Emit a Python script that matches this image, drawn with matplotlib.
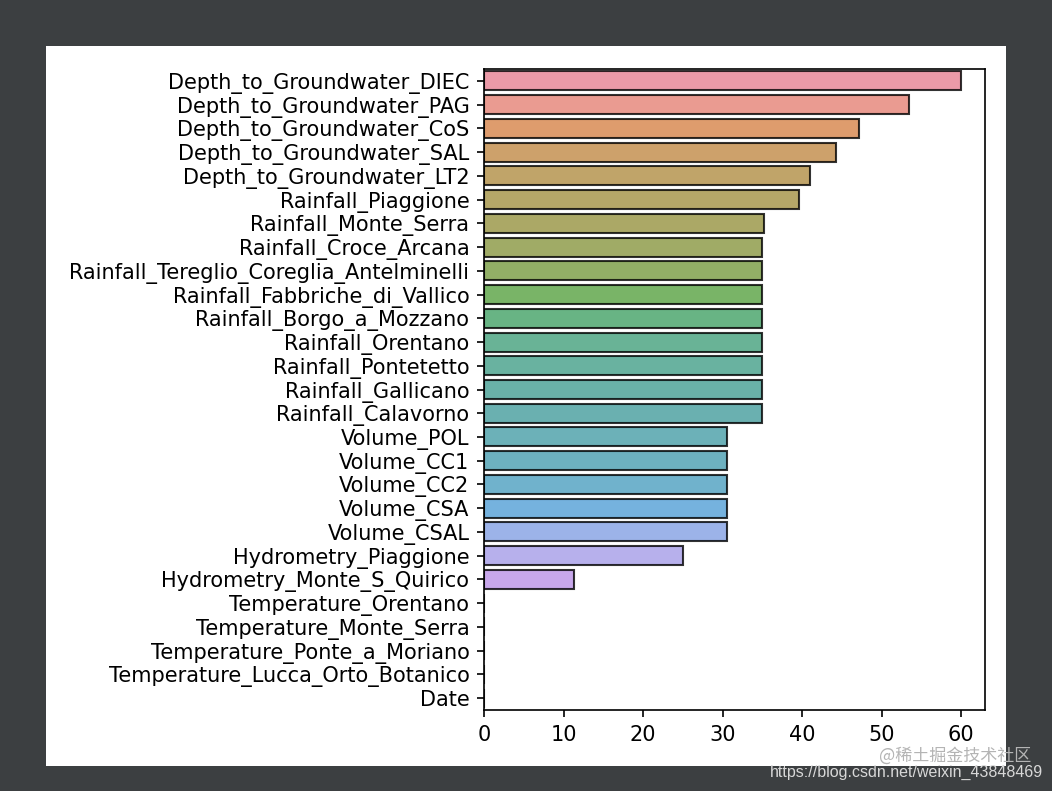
import matplotlib
matplotlib.use("Agg")
import matplotlib.pyplot as plt
import seaborn as sns
from matplotlib.patches import Rectangle

# missing-value percentage per column
columns = ['Depth_to_Groundwater_DIEC', 'Depth_to_Groundwater_PAG', 'Depth_to_Groundwater_CoS',
           'Depth_to_Groundwater_SAL', 'Depth_to_Groundwater_LT2', 'Rainfall_Piaggione',
           'Rainfall_Monte_Serra', 'Rainfall_Croce_Arcana', 'Rainfall_Tereglio_Coreglia_Antelminelli',
           'Rainfall_Fabbriche_di_Vallico', 'Rainfall_Borgo_a_Mozzano', 'Rainfall_Orentano',
           'Rainfall_Pontetetto', 'Rainfall_Gallicano', 'Rainfall_Calavorno',
           'Volume_POL', 'Volume_CC1', 'Volume_CC2', 'Volume_CSA', 'Volume_CSAL',
           'Hydrometry_Piaggione', 'Hydrometry_Monte_S_Quirico', 'Temperature_Orentano',
           'Temperature_Monte_Serra', 'Temperature_Ponte_a_Moriano',
           'Temperature_Lucca_Orto_Botanico', 'Date']
missing = [60.0, 53.4, 47.1, 44.3, 41.0, 39.6, 35.2, 35.0, 35.0, 35.0, 35.0, 35.0, 35.0, 35.0,
           35.0, 30.6, 30.6, 30.6, 30.6, 30.6, 25.0, 11.3, 0, 0, 0, 0, 0]

fig = plt.figure(figsize=(1052 / 150, 791 / 150), dpi=150, facecolor='#3c3f41')
# white canvas of the original screenshot, kept behind the axes
fig.patches.append(Rectangle((46 / 1052, 1 - 766 / 791), 960 / 1052, 720 / 791,
                             transform=fig.transFigure, facecolor='white',
                             edgecolor='none', zorder=-10))

ax = fig.add_axes([484 / 1052, 1 - 710 / 791, (985 - 484) / 1052, (710 - 69) / 791])
sns.barplot(x=missing, y=columns, hue=columns, palette='husl', legend=False,
            edgecolor='black', alpha=0.8, ax=ax)
ax.set_xlim(0, 63)
ax.set_xlabel('')
ax.set_ylabel('')

fig.text(1031 / 1052, 1 - 756 / 791, '@稀土掘金技术社区', ha='right', va='center',
         fontsize=8.2, color='#b4b4b4', family=['Noto Sans CJK SC', 'DejaVu Sans'])
fig.text(1043 / 1052, 1 - 772 / 791, 'https://blog.csdn.net/weixin_43848469', ha='right',
         va='center', fontsize=7.7, color='#d8d8d8', family='Liberation Sans')

fig.savefig('out.png', dpi=150, facecolor=fig.get_facecolor())
